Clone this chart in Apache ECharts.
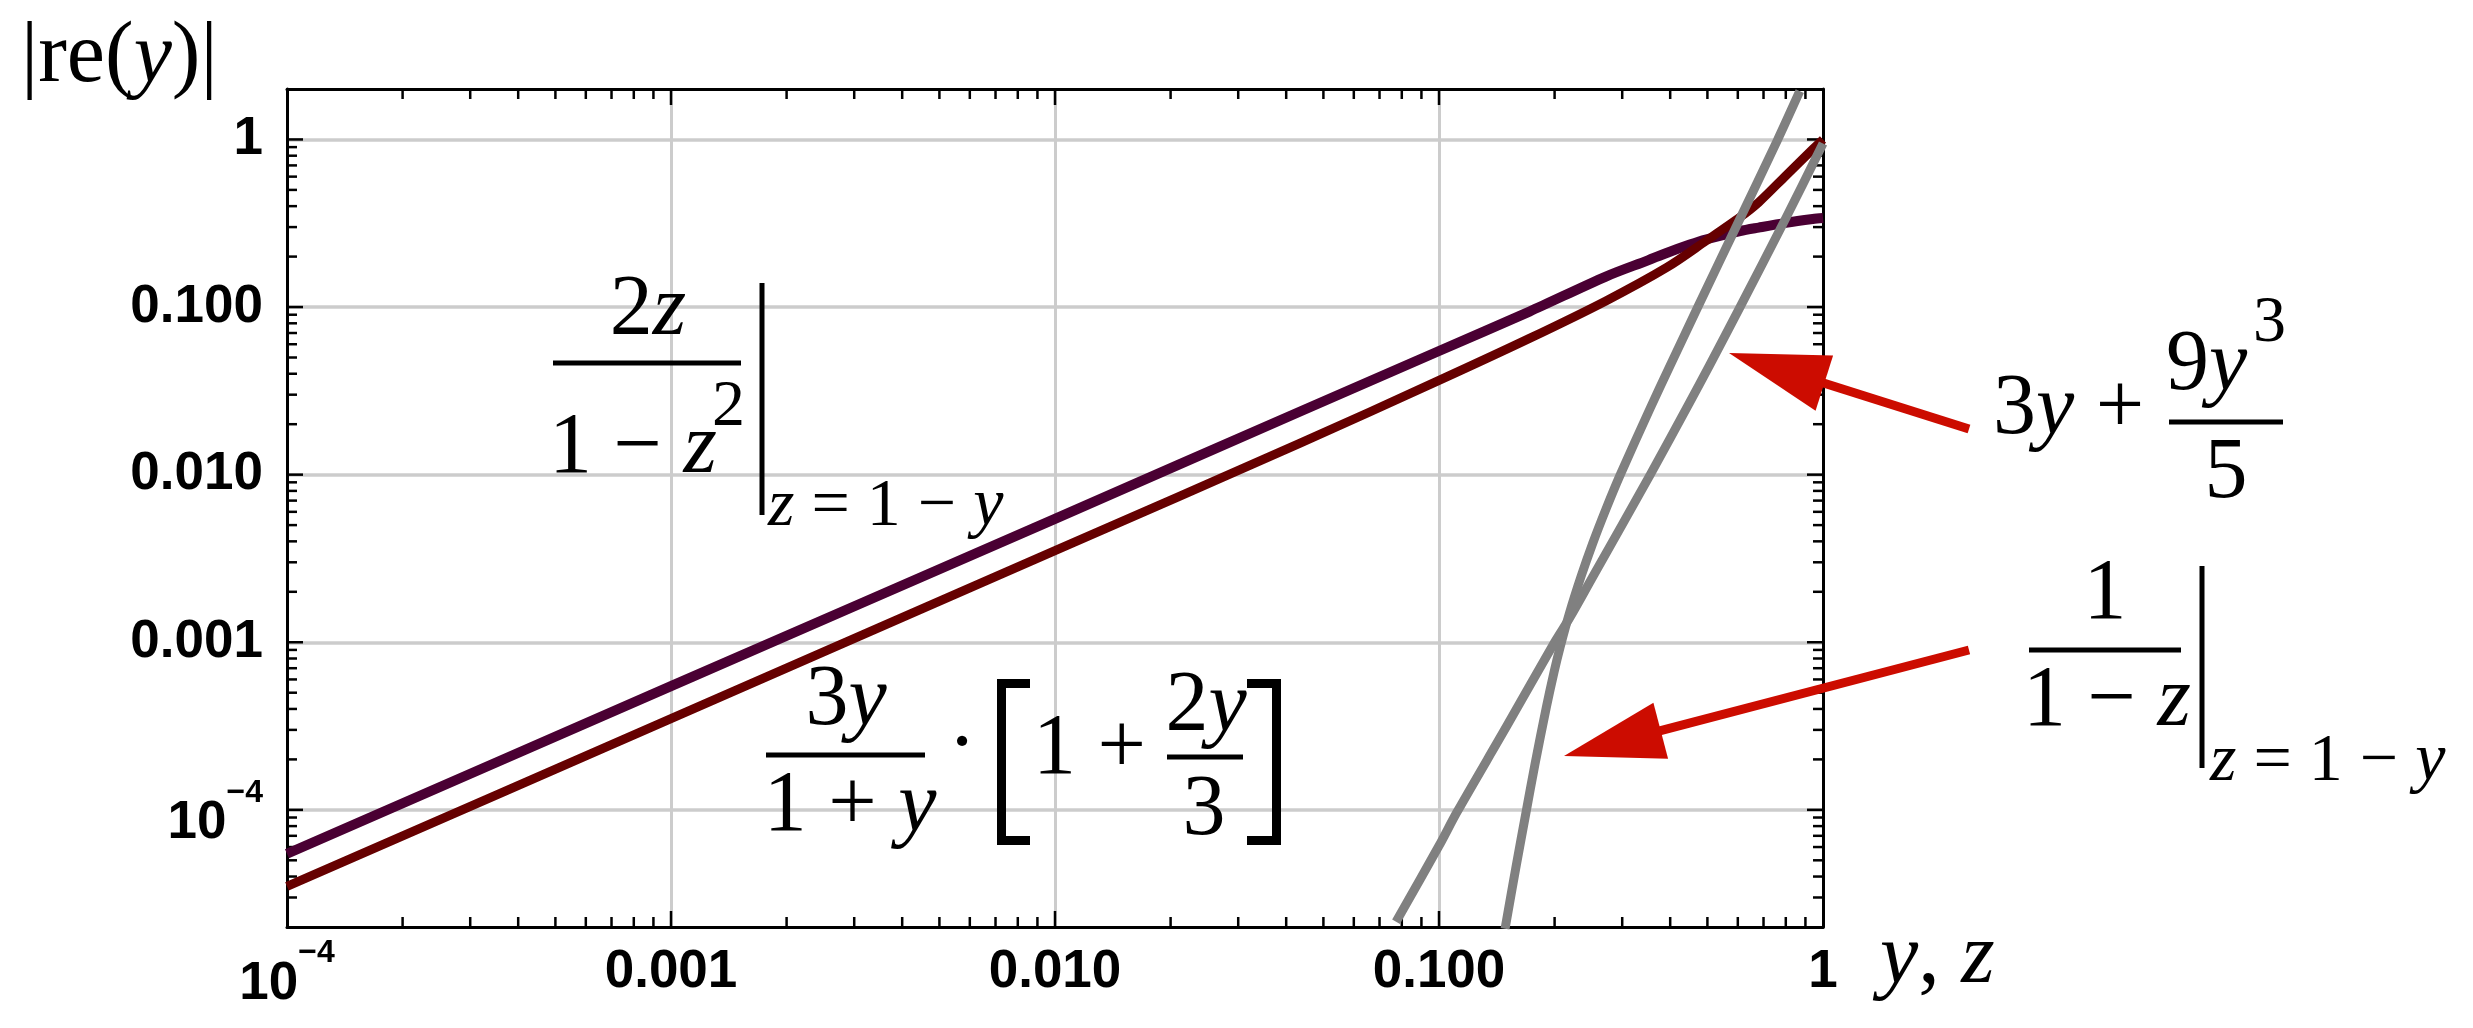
<!DOCTYPE html>
<html><head><meta charset="utf-8">
<script src="https://cdn.jsdelivr.net/npm/echarts@6/dist/echarts.min.js"></script>
<style>html,body{margin:0;padding:0;background:#fff}#c{width:2473px;height:1028px}</style>
</head><body><div id="c"></div>
<script>
// ---------------- data ----------------
const purpleX = [1e-4, 1e-3, 1e-2, 0.0435, 0.1, 0.172, 0.272, 0.35, 0.393, 0.45, 0.495, 0.608, 0.68, 0.8, 0.94, 1];
const purpleY = [5.47e-5, 5.47e-4, 5.45e-3, 0.0238, 0.0547, 0.094, 0.152, 0.19, 0.211, 0.236, 0.253, 0.284, 0.298, 0.318, 0.335, 0.34];
const redX = [1e-4, 1e-3, 1e-2, 0.0435, 0.1, 0.172, 0.272, 0.393, 0.495, 0.608, 0.68, 0.8, 0.94, 1];
const redY = [3.5e-5, 3.5e-4, 3.52e-3, 0.0154, 0.0365, 0.065, 0.1088, 0.173, 0.2475, 0.3435, 0.4216, 0.608, 0.874, 1.0];
const grayAX = [0.0773, 0.1, 0.1114, 0.15, 0.2, 0.219, 0.25, 0.355, 0.45, 0.5076, 0.608, 0.8, 1];
const grayAY = [2.15e-5, 6.1e-5, 9.7e-5, 3.15e-4, 1e-3, 1.4e-3, 2.4e-3, 0.01, 0.0271, 0.0454, 0.1, 0.3386, 0.946];
const grayBX = [0.1486, 0.1585, 0.1687, 0.1778, 0.1905, 0.1995, 0.2066, 0.2188, 0.2344, 0.2512, 0.2723, 0.296, 0.3548, 0.3992, 0.47, 0.6026, 0.76, 0.87];
const grayBY = [1.95e-5, 4.5e-5, 9.8e-5, 1.87e-4, 4.13e-4, 6.7e-4, 9.3e-4, 1.5e-3, 2.47e-3, 3.88e-3, 6.25e-3, 9.9e-3, 0.0249, 0.0444, 0.098, 0.323, 0.984, 1.94];

const xTickExps = [-4, -3, -2, -1, 0];
const xTickLabels = ['10^−4', '0.001', '0.010', '0.100', '1'];
const yTickExps = [-4, -3, -2, -1, 0];
const yTickLabels = ['10^−4', '0.001', '0.010', '0.100', '1'];
const xMin = 1e-4, xMax = 1, yMin = 2e-5, yMax = 2;
const xAxisTitle = ['y', ', ', 'z'];
const yAxisTitle = ['|re(', 'y', ')|'];

// ---------------- helpers ----------------
const SANS = '"Liberation Sans", Arial, sans-serif';
const SERIF = '"Liberation Serif", "Times New Roman", serif';
const C_PURPLE = '#4a0033', C_RED = '#660000', C_GRAY = '#808080', C_ARROW = '#cc0c00';

function exactExp(v, exps) {
  const l = Math.log10(v), e = Math.round(l);
  if (Math.abs(l - e) > 1e-6) return -1;
  return exps.indexOf(e);
}
function fmt(v, exps, labels, pre) {
  const i = exactExp(v, exps);
  if (i < 0) return '';
  const s = labels[i];
  if (s.indexOf('^') >= 0) {
    const [b, p] = s.split('^');
    return '{' + pre + 'b|' + b + '}{' + pre + 's|' + p + '}';
  }
  return '{' + pre + 'p|' + s + '}';
}
const tickBase = {fontFamily: SANS, fontWeight: 'bold', fontSize: 53, color: '#000'};
const xRich = {
  xp: Object.assign({}, tickBase, {lineHeight: 50, padding: [21, 0, 0, 0]}),
  xb: Object.assign({}, tickBase, {lineHeight: 50, padding: [28, 0, 0, 0]}),
  xs: Object.assign({}, tickBase, {fontSize: 32, lineHeight: 66, verticalAlign: 'top'})
};
const yRich = {
  yp: Object.assign({}, tickBase, {lineHeight: 60}),
  yb: Object.assign({}, tickBase, {lineHeight: 50, padding: [28, 0, 0, 0]}),
  ys: Object.assign({}, tickBase, {fontSize: 32, lineHeight: 66, verticalAlign: 'top'})
};

// minor & major tick values for the mirrored frame ticks
const tickData = [];
for (let e = -5; e <= 0; e++) {
  for (let k = 1; k <= 9; k++) {
    const v = k * Math.pow(10, e);
    if (v <= yMin * 1.0001 || v >= yMax * 0.9999) continue;
    const len = k === 1 ? 16 : 10;
    tickData.push([xMin, v, 0, len]);
    tickData.push([xMax, v, 1, len]);
  }
}
for (let e = -4; e <= -1; e++) {
  for (let k = 1; k <= 9; k++) {
    const v = k * Math.pow(10, e);
    if (v <= xMin * 1.0001) continue;
    const len = k === 1 ? 16 : 10;
    tickData.push([v, yMin, 2, len]);
    tickData.push([v, yMax, 3, len]);
  }
}

const rich = {
  r: {fontFamily: SERIF, fontSize: 86, lineHeight: 90, color: '#000'},
  i: {fontFamily: SERIF, fontSize: 86, lineHeight: 90, fontStyle: 'italic', color: '#000'},
  sr: {fontFamily: SERIF, fontSize: 68, lineHeight: 72, color: '#000'},
  si: {fontFamily: SERIF, fontSize: 68, lineHeight: 72, fontStyle: 'italic', color: '#000'},
  p: {fontFamily: SERIF, fontSize: 66, lineHeight: 70, color: '#000'}
};
function T(x, y, str, align) {
  return {type: 'text', x: x, y: y, z: 50,
    style: {text: str, rich: rich, align: align || 'left', verticalAlign: 'middle', fill: '#000'}};
}
function L(x1, y1, x2, y2, w, color) {
  return {type: 'line', z: 50, shape: {x1: x1, y1: y1, x2: x2, y2: y2},
    style: {stroke: color || '#000', lineWidth: w || 5}};
}
function P(points, w) {
  return {type: 'polyline', z: 50, shape: {points: points},
    style: {stroke: '#000', lineWidth: w, lineJoin: 'miter', lineCap: 'butt', fill: null}};
}
function arrow(tail, tip, headLen, headHalf, w) {
  const dx = tail[0] - tip[0], dy = tail[1] - tip[1];
  const n = Math.hypot(dx, dy), ux = dx / n, uy = dy / n;
  const bx = tip[0] + ux * headLen, by = tip[1] + uy * headLen;
  return [
    {type: 'line', z: 49, shape: {x1: bx - ux * 5, y1: by - uy * 5, x2: tail[0], y2: tail[1]},
      style: {stroke: C_ARROW, lineWidth: w}},
    {type: 'polygon', z: 49, shape: {points: [tip, [bx - uy * headHalf, by + ux * headHalf], [bx + uy * headHalf, by - ux * headHalf]]},
      style: {fill: C_ARROW}}
  ];
}

const graphics = [
  T(21, 58, '{r|' + yAxisTitle[0] + '}{i|' + yAxisTitle[1] + '}{r|' + yAxisTitle[2] + '}'),
  T(1880, 959, '{i|' + xAxisTitle[0] + '}{r|' + xAxisTitle[1] + '}{i|' + xAxisTitle[2] + '}'),
  // 2z/(1-z^2) |_{z=1-y}
  T(648, 311, '{r|2}{i|z}', 'center'),
  L(553, 363, 741, 363, 5),
  T(549, 449, '{r|1 − }{i|z}'),
  T(712, 408, '{p|2}'),
  L(762, 283, 762, 515, 5),
  T(768, 507, '{si|z}{sr| = 1 − }{si|y}'),
  // 3y/(1+y) . [1 + 2y/3]
  T(846, 701, '{r|3}{i|y}', 'center'),
  L(766, 755, 925, 755, 5),
  T(850, 807, '{r|1 + }{i|y}', 'center'),
  T(962, 747, '{r|·}', 'center'),
  P([[1030, 683.5], [1001.5, 683.5], [1001.5, 840.5], [1030, 840.5]], 9),
  T(1033, 750, '{r|1 +}'),
  T(1206, 707, '{r|2}{i|y}', 'center'),
  L(1167, 757, 1243, 757, 5),
  T(1204, 811, '{r|3}', 'center'),
  P([[1247, 683.5], [1276.5, 683.5], [1276.5, 840.5], [1247, 840.5]], 9),
  // 3y + 9y^3/5
  T(1993, 410, '{r|3}{i|y}{r| +}'),
  T(2166, 366, '{r|9}{i|y}'),
  T(2253, 324, '{p|3}'),
  L(2169, 422, 2283, 422, 5),
  T(2226, 474, '{r|5}', 'center'),
  // 1/(1-z) |_{z=1-y}
  T(2105, 595, '{r|1}', 'center'),
  L(2029, 650, 2181, 650, 5),
  T(2107, 702, '{r|1 − }{i|z}', 'center'),
  L(2202, 566, 2202, 768, 5),
  T(2210, 762, '{si|z}{sr| = 1 − }{si|y}')
].concat(arrow([1969, 429], [1729, 353], 100, 29, 9))
 .concat(arrow([1969, 650], [1564, 756], 100, 29, 9));

function lineSeries(xs, ys, color, w) {
  return {type: 'line', xAxisIndex: 0, yAxisIndex: 0, data: xs.map((x, i) => [x, ys[i]]),
    symbol: 'none', showSymbol: false, smooth: 0.3, clip: true,
    lineStyle: {color: color, width: w, join: 'round'}, itemStyle: {color: color}, animation: false, silent: true};
}

const frameLine = {show: true, lineStyle: {color: '#000', width: 3}};
const option = {
  backgroundColor: '#fff',
  animation: false,
  grid: {left: 287, top: 89, width: 1536, height: 838, containLabel: false},
  xAxis: [
    {type: 'log', logBase: 10, min: xMin, max: xMax, position: 'bottom',
      axisLine: frameLine, axisTick: {show: false}, minorTick: {show: false},
      splitLine: {show: true, showMinLine: false, showMaxLine: false, lineStyle: {color: '#cccccc', width: 3}},
      axisLabel: {show: true, margin: 10, formatter: v => fmt(v, xTickExps, xTickLabels, 'x'), rich: xRich,
        showMinLabel: true, showMaxLabel: true, hideOverlap: false}},
    {type: 'log', logBase: 10, min: xMin, max: xMax, position: 'top',
      axisLine: frameLine, axisTick: {show: false}, axisLabel: {show: false}, splitLine: {show: false}}
  ],
  yAxis: [
    {type: 'log', logBase: 10, min: yMin, max: yMax, position: 'left',
      axisLine: frameLine, axisTick: {show: false}, minorTick: {show: false},
      splitLine: {show: true, showMinLine: false, showMaxLine: false, lineStyle: {color: '#cccccc', width: 3.5}},
      axisLabel: {show: true, margin: 24, formatter: v => fmt(v, yTickExps, yTickLabels, 'y'), rich: yRich,
        showMinLabel: false, showMaxLabel: false, hideOverlap: false}},
    {type: 'log', logBase: 10, min: yMin, max: yMax, position: 'right',
      axisLine: frameLine, axisTick: {show: false}, axisLabel: {show: false}, splitLine: {show: false}}
  ],
  series: [
    {type: 'custom', coordinateSystem: 'cartesian2d', xAxisIndex: 0, yAxisIndex: 0, silent: true,
      data: tickData, encode: {x: 0, y: 1}, z: 1,
      renderItem: function (params, api) {
        const p = api.coord([api.value(0), api.value(1)]);
        const side = api.value(2), len = api.value(3);
        let x2 = p[0], y2 = p[1];
        if (side === 0) x2 += len; else if (side === 1) x2 -= len;
        else if (side === 2) y2 -= len; else y2 += len;
        return {type: 'line', shape: {x1: p[0], y1: p[1], x2: x2, y2: y2},
          style: {stroke: '#000', lineWidth: 2.5}};
      }},
    lineSeries(purpleX, purpleY, C_PURPLE, 10),
    lineSeries(redX, redY, C_RED, 9),
    lineSeries(grayAX, grayAY, C_GRAY, 9),
    lineSeries(grayBX, grayBY, C_GRAY, 9)
  ],
  graphic: graphics
};
const chart = echarts.init(document.getElementById('c'), null, {renderer: 'canvas'});
chart.setOption(option);
</script></body></html>
